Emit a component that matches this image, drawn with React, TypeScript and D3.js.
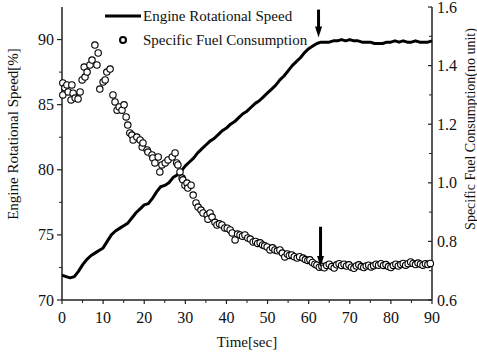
import React from "react";
import * as d3 from "d3";

const timeSec = [
  0, 1, 2, 3, 4, 5, 6, 7, 8, 9, 10, 11, 12, 13, 14, 15, 16, 17, 18, 19, 20,
  21, 22, 23, 24, 25, 26, 27, 28, 29, 30, 31, 32, 33, 34, 35, 36, 37, 38, 39, 40,
  41, 42, 43, 44, 45, 46, 47, 48, 49, 50, 51, 52, 53, 54, 55, 56, 57, 58, 59, 60,
  61, 62, 63, 64, 65, 66, 67, 68, 69, 70, 71, 72, 73, 74, 75, 76, 77, 78, 79, 80,
  81, 82, 83, 84, 85, 86, 87, 88, 89, 90,
];

const engineSpeed = [
  71.9, 71.8, 71.7, 71.8, 72.2, 72.7, 73.1, 73.4, 73.6, 73.8, 74.0,
  74.5, 75.0, 75.3, 75.5, 75.7, 75.9, 76.3, 76.7, 77.0, 77.3,
  77.4, 77.8, 78.3, 78.7, 78.8, 79.0, 79.4, 79.6, 79.9, 80.3,
  80.6, 80.9, 81.3, 81.6, 81.9, 82.2, 82.4, 82.7, 83.0, 83.2,
  83.5, 83.7, 84.0, 84.3, 84.5, 84.8, 85.1, 85.3, 85.6, 85.9,
  86.2, 86.5, 86.9, 87.2, 87.6, 88.0, 88.3, 88.6, 89.0, 89.3,
  89.5, 89.7, 89.8, 89.8, 89.8, 89.9, 89.9, 90.0, 89.9, 90.0,
  89.9, 89.9, 89.8, 89.8, 89.8, 89.7, 89.7, 89.7, 89.8, 89.8,
  89.9, 89.8, 89.9, 89.8, 89.8, 89.9, 89.8, 89.8, 89.8, 89.9,
];

const sfcPoints: [number, number][] = [
  [0.2, 1.341], [0.2, 1.3], [0.7, 1.324], [1.2, 1.334], [1.5, 1.31], [2.2, 1.283],
  [2.4, 1.334], [2.7, 1.306], [3.2, 1.289], [3.9, 1.286], [4.4, 1.31], [4.9, 1.351],
  [5.4, 1.395], [5.6, 1.361], [6.1, 1.378], [6.8, 1.402], [7.3, 1.419], [8.0, 1.47],
  [8.5, 1.402], [8.8, 1.443], [9.2, 1.32], [10.0, 1.344], [10.5, 1.351], [10.9, 1.378],
  [11.7, 1.388], [12.4, 1.3], [12.9, 1.276], [13.4, 1.248], [13.9, 1.259], [14.6, 1.248],
  [15.1, 1.266], [15.6, 1.225], [16.0, 1.197], [16.5, 1.17], [17.0, 1.163], [17.3, 1.146],
  [18.2, 1.156], [19.0, 1.146], [19.5, 1.122], [19.7, 1.136], [20.7, 1.112], [20.9, 1.105],
  [21.9, 1.095], [22.1, 1.085], [22.6, 1.068], [23.4, 1.088], [23.8, 1.037], [24.3, 1.061],
  [25.1, 1.068], [25.8, 1.078], [26.8, 1.088], [27.5, 1.102], [27.9, 1.068], [28.2, 1.061],
  [28.7, 1.037], [29.2, 1.016], [29.4, 1.01], [29.9, 0.992], [30.4, 0.999], [30.6, 0.982],
  [31.4, 0.992], [31.9, 0.958], [32.6, 0.931], [33.1, 0.917], [33.8, 0.907], [34.3, 0.897],
  [35.3, 0.89], [35.5, 0.876], [36.0, 0.897], [36.5, 0.883], [37.2, 0.865], [37.7, 0.856],
  [38.3, 0.86], [38.9, 0.856], [39.6, 0.846], [40.2, 0.845], [40.9, 0.839], [41.4, 0.829],
  [42.1, 0.805], [42.7, 0.825], [43.3, 0.822], [43.9, 0.818], [44.5, 0.822], [45.2, 0.812],
  [45.8, 0.808], [46.5, 0.798], [47.1, 0.8], [47.6, 0.793], [48.2, 0.795], [48.8, 0.788],
  [49.3, 0.785], [49.9, 0.781], [50.6, 0.771], [51.2, 0.778], [51.8, 0.771], [52.4, 0.768],
  [53.0, 0.771], [53.6, 0.76], [54.2, 0.747], [54.8, 0.757], [55.3, 0.752], [55.9, 0.754],
  [56.5, 0.748], [57.2, 0.743], [57.8, 0.748], [58.6, 0.743], [59.2, 0.738], [59.8, 0.735],
  [60.3, 0.737], [60.9, 0.728], [61.5, 0.722], [62.0, 0.719], [62.6, 0.712], [63.2, 0.715],
  [63.8, 0.71], [64.4, 0.718], [65.0, 0.722], [65.6, 0.714], [66.2, 0.709], [66.8, 0.72],
  [67.4, 0.724], [68.0, 0.718], [68.6, 0.722], [69.2, 0.716], [69.8, 0.72], [70.4, 0.712],
  [71.0, 0.708], [71.6, 0.716], [72.2, 0.72], [72.8, 0.714], [73.4, 0.711], [74.0, 0.716],
  [74.6, 0.719], [75.2, 0.713], [75.8, 0.717], [76.4, 0.722], [77.0, 0.719], [77.6, 0.724],
  [78.2, 0.718], [78.8, 0.721], [79.4, 0.714], [80.0, 0.711], [80.6, 0.718], [81.2, 0.722],
  [81.8, 0.716], [82.4, 0.721], [83.0, 0.725], [83.6, 0.719], [84.2, 0.724], [84.8, 0.73],
  [85.4, 0.725], [86.0, 0.721], [86.6, 0.726], [87.2, 0.722], [87.8, 0.719], [88.4, 0.724],
  [89.0, 0.721], [89.6, 0.725],
];

const xTicks = [0, 10, 20, 30, 40, 50, 60, 70, 80, 90];
const xMinor = [5, 15, 25, 35, 45, 55, 65, 75, 85];
const leftTicks = [70, 75, 80, 85, 90];
const leftMinor = [72.5, 77.5, 82.5, 87.5];
const rightTicks = [0.6, 0.8, 1.0, 1.2, 1.4, 1.6];
const rightMinor = [0.7, 0.9, 1.1, 1.3, 1.5];

const arrowTime = 62.4;
const speedArrow = [92.3, 90.15];
const sfcArrow = [0.85, 0.713];

const FONT = "'Liberation Serif', 'Times New Roman', serif";

export default function App() {
  const W = 477;
  const H = 355;
  const left = 62;
  const right = 432;
  const top = 7;
  const bottom = 300;

  const x = d3.scaleLinear().domain([0, 90]).range([left, right]);
  const yL = d3.scaleLinear().domain([70, 92.5]).range([bottom, top]);
  const yR = d3.scaleLinear().domain([0.6, 1.6]).range([bottom, top]);

  const line = d3
    .line<number>()
    .x((_, i) => x(timeSec[i]))
    .y((d) => yL(d));

  const axisColor = "#222";

  const arrow = (ax: number, y1: number, y2: number, key: string) => {
    const headLen = 11;
    return (
      <g key={key}>
        <line x1={ax} x2={ax} y1={y1} y2={y2 - headLen + 1} stroke="#000" strokeWidth={3} />
        <path
          d={`M${ax - 3.5},${y2 - headLen} L${ax + 3.5},${y2 - headLen} L${ax},${y2} Z`}
          fill="#000"
        />
      </g>
    );
  };

  return (
    <svg
      width={W}
      height={H}
      style={{ position: "absolute", left: 0, top: 0, background: "#fff" }}
      fontFamily={FONT}
    >
      <rect width={W} height={H} fill="#fff" />
      {/* axes */}
      <line x1={left} x2={left} y1={top} y2={bottom} stroke={axisColor} strokeWidth={1.5} />
      <line x1={right} x2={right} y1={top} y2={bottom} stroke={axisColor} strokeWidth={1.5} />
      <line x1={left} x2={right} y1={bottom} y2={bottom} stroke={axisColor} strokeWidth={1.5} />

      {xTicks.map((t) => (
        <g key={"xt" + t}>
          <line x1={x(t)} x2={x(t)} y1={bottom} y2={bottom + 4} stroke={axisColor} strokeWidth={1.2} />
          <text x={x(t)} y={bottom + 23} textAnchor="middle" fontSize={16} fill="#111">
            {t}
          </text>
        </g>
      ))}
      {xMinor.map((t) => (
        <line key={"xm" + t} x1={x(t)} x2={x(t)} y1={bottom} y2={bottom + 3} stroke={axisColor} strokeWidth={1} />
      ))}

      {leftTicks.map((v) => (
        <g key={"lt" + v}>
          <line x1={left - 5} x2={left} y1={yL(v)} y2={yL(v)} stroke={axisColor} strokeWidth={1.2} />
          <text x={left - 8} y={yL(v) + 5.5} textAnchor="end" fontSize={16} fill="#111">
            {v}
          </text>
        </g>
      ))}
      {leftMinor.map((v) => (
        <line key={"lm" + v} x1={left - 3} x2={left} y1={yL(v)} y2={yL(v)} stroke={axisColor} strokeWidth={1} />
      ))}

      {rightTicks.map((v) => (
        <g key={"rt" + v}>
          <line x1={right - 4} x2={right} y1={yR(v)} y2={yR(v)} stroke={axisColor} strokeWidth={1.2} />
          <text x={right + 5} y={yR(v) + 5.5} textAnchor="start" fontSize={16} fill="#111">
            {v.toFixed(1)}
          </text>
        </g>
      ))}
      {rightMinor.map((v) => (
        <line key={"rm" + v} x1={right - 3} x2={right} y1={yR(v)} y2={yR(v)} stroke={axisColor} strokeWidth={1} />
      ))}

      {/* axis titles */}
      <text x={247} y={347} textAnchor="middle" fontSize={15} fill="#111">
        Time[sec]
      </text>
      <text
        transform={`translate(18,134) rotate(-90)`}
        textAnchor="middle"
        fontSize={15}
        fill="#111"
      >
        Engine Rotational Speed[%]
      </text>
      <text
        transform={`translate(475,129) rotate(-90)`}
        textAnchor="middle"
        fontSize={14}
        fill="#111"
      >
        Specific Fuel Consumption(no unit)
      </text>

      {/* engine speed line */}
      <path d={line(engineSpeed) || ""} fill="none" stroke="#000" strokeWidth={3} strokeLinejoin="round" />

      {/* SFC circles */}
      {sfcPoints.map(([t, v], i) => (
        <circle key={"c" + i} cx={x(t)} cy={yR(v)} r={3.2} fill="#fff" stroke="#000" strokeWidth={1.1} />
      ))}

      {/* arrows */}
      {arrow(x(arrowTime), yL(speedArrow[0]), yL(speedArrow[1]), "a1")}
      {arrow(x(arrowTime) + 2, yR(sfcArrow[0]), yR(sfcArrow[1]), "a2")}

      {/* legend */}
      <line x1={105} x2={141} y1={16} y2={16} stroke="#000" strokeWidth={3} />
      <text x={143} y={21} fontSize={15} fill="#111">
        Engine Rotational Speed
      </text>
      <circle cx={123} cy={40} r={3} fill="#fff" stroke="#000" strokeWidth={2} />
      <text x={143} y={45} fontSize={15} fill="#111">
        Specific Fuel Consumption
      </text>
    </svg>
  );
}
